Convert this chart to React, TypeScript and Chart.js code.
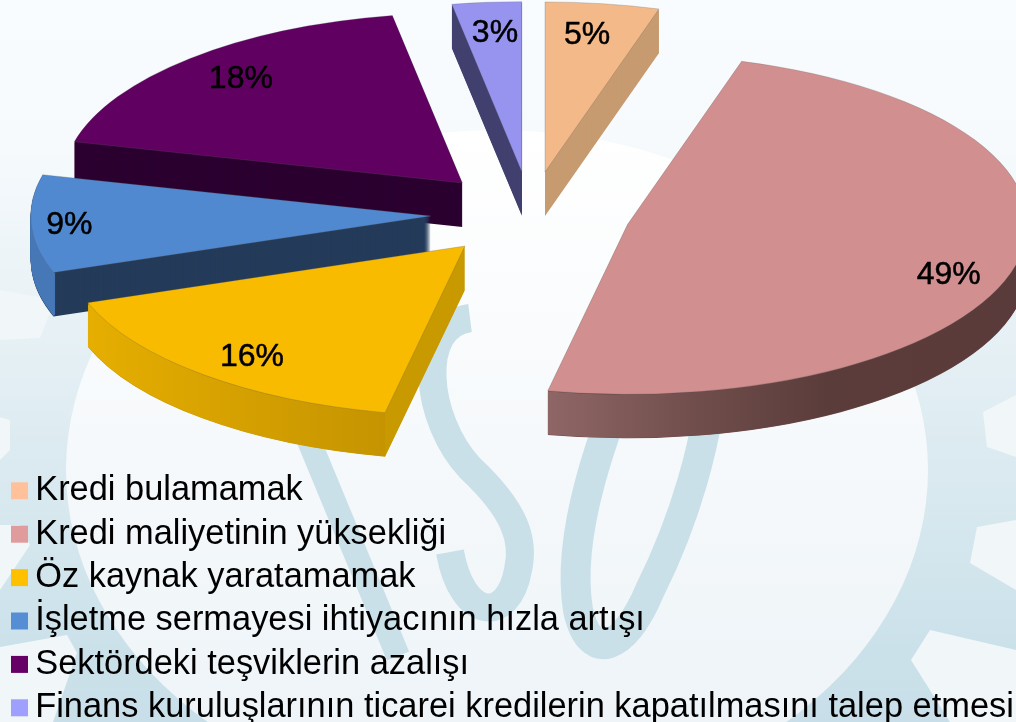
import React, { useEffect, useRef } from "react";
import { Chart, registerables } from "chart.js";

Chart.register(...registerables);

const categories = [
  "Kredi bulamamak",
  "Kredi maliyetinin yüksekliği",
  "Öz kaynak yaratamamak",
  "İşletme sermayesi ihtiyacının hızla artışı",
  "Sektördeki teşviklerin azalışı",
  "Finans kuruluşlarının ticarei kredilerin kapatılmasını talep etmesi",
];
const values = [4.6, 48.6, 16.4, 9.3, 18.3, 2.8];
const topColors = ["#F3B988", "#D18F8F", "#F9BB00", "#5089D0", "#600060", "#9794F0"];
const legendColors = ["#FFC09A", "#E09C9C", "#FFC000", "#558ED5", "#660066", "#9F9FFF"];
const cutColors = ["#C79B70", "#6F4A4A", "#C99A00", "#243B5A", "#2B0030", "#42406F"];
const rimStops: [number, string][][] = [
  [[545, "#C79B70"], [660, "#C79B70"]],
  [[548, "#8F6666"], [700, "#6F4D4B"], [830, "#5A3C3A"], [1016, "#5A3B3B"]],
  [[88, "#E6AE00"], [385, "#C59400"]],
  [[30, "#4678B8"], [60, "#4678B8"]],
  [[77, "#2B0030"], [400, "#2B0030"]],
  [[450, "#42406F"], [525, "#42406F"]],
];
const labelFractions = [0.8, 0.825, 0.83, 0.907, 0.83, 0.82];
const labelNudgeX = [-4, 1, 5, 1, 5, 2];
const labelNudgeY = [-2, 17, 5, 2, -1, 0];

const CX = 530.6;
const CY = 214;
const TILT = 0.425;
const DEPTH = 44;
const RADIUS = 400;
const EXPLODE = 100;
const sideOrder = [5, 0, 4, 3, 1, 2];

const notches: number[][][] = [
  [[0, 290], [55, 300], [40, 338], [0, 340]],
  [[0, 417], [10, 420], [10, 450], [0, 460]],
  [[0, 525], [20, 525], [30, 545], [0, 590]],
  [[0, 647], [67, 635], [77, 653], [53, 722], [0, 722]],
  [[983, 412], [1016, 395], [1016, 457], [987, 447]],
  [[977, 527], [1016, 520], [1016, 590], [970, 563]],
  [[930, 630], [1016, 650], [1016, 722], [950, 722], [911, 660]],
];

function tilt(ctx: CanvasRenderingContext2D, arc: any, dy: number) {
  const mid = (arc.startAngle + arc.endAngle) / 2;
  ctx.translate(CX + Math.cos(mid) * EXPLODE, CY + dy + Math.sin(mid) * EXPLODE * TILT);
  ctx.scale(1, TILT);
  ctx.translate(-arc.x, -arc.y);
}

function drawWatermark(ctx: CanvasRenderingContext2D, w: number, h: number) {
  const body = ctx.createLinearGradient(0, 0, 0, h);
  body.addColorStop(0, "#F8FCFF");
  body.addColorStop(0.2, "#F6FAFD");
  body.addColorStop(0.42, "#E9F2F6");
  body.addColorStop(0.9, "#CBE1EA");
  body.addColorStop(1, "#C8DFE9");
  ctx.fillStyle = body;
  ctx.fillRect(0, 0, w, h);

  ctx.fillStyle = "#F1F6F9";
  notches.forEach((poly) => {
    ctx.beginPath();
    poly.forEach(([x, y], j) => (j === 0 ? ctx.moveTo(x, y) : ctx.lineTo(x, y)));
    ctx.closePath();
    ctx.fill();
  });

  const inner = ctx.createLinearGradient(0, 130, 0, 720);
  inner.addColorStop(0, "#FFFFFF");
  inner.addColorStop(1, "#EEF4F8");
  ctx.beginPath();
  ctx.ellipse(497, 470, 431, 340, 0, 0, Math.PI * 2);
  ctx.fillStyle = inner;
  ctx.fill();

  ctx.strokeStyle = "#C9E0E9";
  ctx.lineCap = "butt";
  ctx.lineJoin = "round";
  ctx.lineWidth = 24;
  ctx.beginPath();
  ctx.moveTo(290, 395);
  ctx.lineTo(398, 656);
  ctx.stroke();
  ctx.lineWidth = 28;
  ctx.beginPath();
  ctx.moveTo(470, 318);
  ctx.bezierCurveTo(415, 325, 425, 420, 470, 468);
  ctx.bezierCurveTo(515, 510, 525, 540, 518, 570);
  ctx.bezierCurveTo(508, 625, 462, 620, 450, 552);
  ctx.stroke();
  ctx.lineWidth = 30;
  ctx.beginPath();
  ctx.moveTo(640, 340);
  ctx.bezierCurveTo(605, 430, 565, 530, 578, 610);
  ctx.bezierCurveTo(590, 665, 625, 650, 650, 590);
  ctx.bezierCurveTo(680, 530, 712, 440, 714, 350);
  ctx.stroke();
}

const pie3d = {
  id: "pie3d",
  afterLayout(chart: any) {
    // the legend box is kept narrow so every entry takes its own row; the long last row may overflow it
    const legend = chart.legend;
    legend.draw = () => legend._draw();
  },
  beforeDraw(chart: any) {
    drawWatermark(chart.ctx, chart.width, chart.height);
  },
  beforeDatasetDraw(chart: any) {
    const ctx: CanvasRenderingContext2D = chart.ctx;
    const arcs = chart.getDatasetMeta(0).data;
    sideOrder.forEach((i) => {
      const arc = arcs[i];
      const shell = Object.create(arc);
      shell.options = { ...arc.options, backgroundColor: cutColors[i], borderWidth: 0 };
      for (let d = DEPTH; d >= 1; d--) {
        ctx.save();
        tilt(ctx, arc, d);
        shell.draw(ctx);
        ctx.restore();
      }
      const stops = rimStops[i];
      const x0 = stops[0][0];
      const span = stops[stops.length - 1][0] - x0;
      const grad = ctx.createLinearGradient(x0, 0, x0 + span, 0);
      stops.forEach(([x, c]) => grad.addColorStop((x - x0) / span, c));
      ctx.strokeStyle = grad;
      ctx.lineWidth = 2;
      for (let d = DEPTH - 1; d >= 2; d--) {
        ctx.save();
        tilt(ctx, arc, d);
        ctx.beginPath();
        ctx.arc(arc.x, arc.y, arc.outerRadius - 1, arc.startAngle, arc.endAngle);
        ctx.restore();
        ctx.stroke();
      }
    });
    arcs.forEach((arc: any) => {
      ctx.save();
      tilt(ctx, arc, 0);
      arc.draw(ctx);
      ctx.restore();
    });
    return false;
  },
  afterDatasetsDraw(chart: any) {
    const ctx: CanvasRenderingContext2D = chart.ctx;
    const arcs = chart.getDatasetMeta(0).data;
    ctx.save();
    ctx.font = "32px 'Liberation Sans'";
    ctx.fillStyle = "#000";
    ctx.strokeStyle = "#000";
    ctx.lineWidth = 0.5;
    ctx.textAlign = "center";
    ctx.textBaseline = "middle";
    const total = values.reduce((a, b) => a + b, 0);
    arcs.forEach((arc: any, i: number) => {
      const mid = (arc.startAngle + arc.endAngle) / 2;
      const r = RADIUS * labelFractions[i] + EXPLODE;
      const x = CX + Math.cos(mid) * r + labelNudgeX[i];
      const y = CY + Math.sin(mid) * r * TILT + labelNudgeY[i];
      const text = `${Math.round((values[i] / total) * 100)}%`;
      ctx.fillText(text, x, y);
      ctx.strokeText(text, x, y);
    });
    ctx.restore();
  },
  afterDraw(chart: any) {
    const ctx: CanvasRenderingContext2D = chart.ctx;
    (chart.legend.legendHitBoxes || []).forEach((box: any, i: number) => {
      ctx.fillStyle = legendColors[i];
      ctx.fillRect(box.left - 7, box.top + box.height / 2 - 8.5, 17, 17);
    });
  },
};

export default function App() {
  const ref = useRef<HTMLCanvasElement>(null);
  useEffect(() => {
    const chart = new Chart(ref.current!, {
      type: "pie",
      data: {
        labels: categories,
        datasets: [
          {
            data: values,
            backgroundColor: topColors,
            borderColor: "rgba(90,90,90,0.35)",
            borderWidth: 1,
          },
        ],
      },
      plugins: [pie3d],
      options: {
        responsive: false,
        animation: false,
        radius: RADIUS,
        layout: { padding: { left: 9, right: 380, top: 0, bottom: -13 } },
        plugins: {
          tooltip: { enabled: false },
          legend: {
            position: "bottom",
            align: "start",
            labels: {
              boxWidth: 0,
              boxHeight: 0,
              padding: 9,
              color: "#000",
              font: { family: "'Liberation Sans'", size: 34.4 },
              generateLabels: () =>
                categories.map((text, i) => ({
                  text,
                  fillStyle: "transparent",
                  strokeStyle: "transparent",
                  lineWidth: 0,
                  hidden: false,
                  index: i,
                  fontColor: "#000",
                })),
            },
          },
        },
      },
    } as any);
    return () => chart.destroy();
  }, []);
  return (
    <div style={{ position: "absolute", left: 0, top: 0, width: 1016, height: 722, overflow: "hidden" }}>
      <canvas ref={ref} width={1016} height={722} style={{ display: "block" }} />
    </div>
  );
}
